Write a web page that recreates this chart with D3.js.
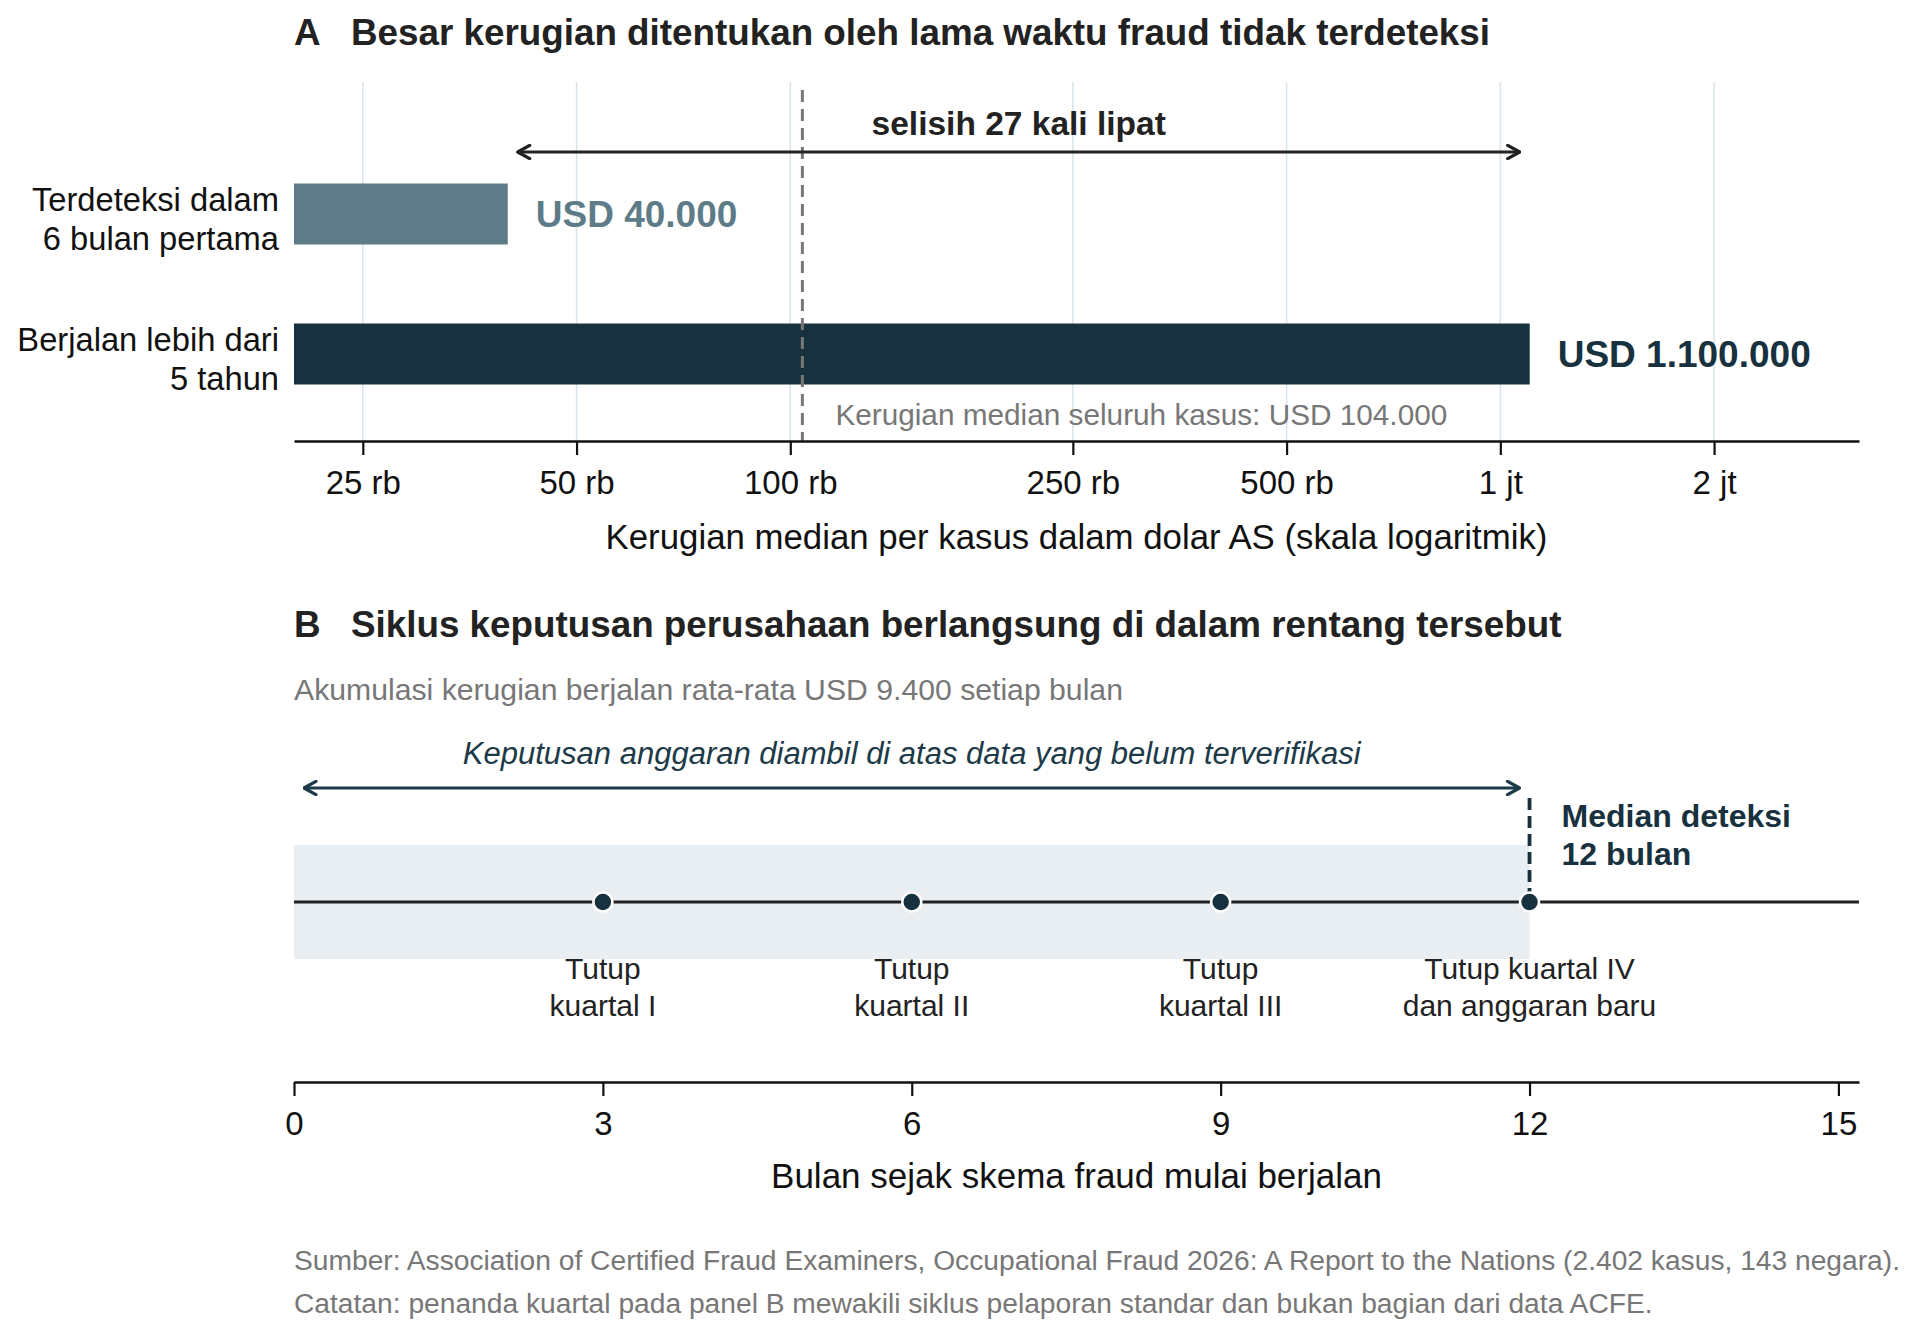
<!DOCTYPE html>
<html>
<head>
<meta charset="utf-8">
<script src="https://cdn.jsdelivr.net/npm/d3@7"></script>
<style>
  body { margin: 0; background: #fff; }
  svg { font-family: "Liberation Sans", Arial, sans-serif; }
</style>
</head>
<body>
<svg id="chart" width="1920" height="1336"></svg>
<script>
// panel A data
const categories = ["Terdeteksi dalam\n6 bulan pertama", "Berjalan lebih dari\n5 tahun"];
const lossValues = [40000, 1100000];
const lossLabels = ["USD 40.000", "USD 1.100.000"];
const medianAllCases = 104000;
const logTicks = [25000, 50000, 100000, 250000, 500000, 1000000, 2000000];
const logTickLabels = ["25 rb", "50 rb", "100 rb", "250 rb", "500 rb", "1 jt", "2 jt"];

// panel B data
const quarterMonths = [3, 6, 9, 12];
const quarterLabels = ["Tutup\nkuartal I", "Tutup\nkuartal II", "Tutup\nkuartal III", "Tutup kuartal IV\ndan anggaran baru"];
const monthTicks = [0, 3, 6, 9, 12, 15];
const medianDetectionMonths = 12;

const WIDTH = 1920, HEIGHT = 1336;
const left = 294, right = 1859;
const DARK = "#18313e", SLATE = "#5e7b88", TEXT = "#222", GRAY = "#777";

const svg = d3.select("#chart");
svg.append("rect").attr("width", WIDTH).attr("height", HEIGHT).attr("fill", "#fff");

// arrow heads
const defs = svg.append("defs");
[["arrowDark", "#222"], ["arrowTeal", "#1d3a48"]].forEach(([id, c]) => {
  defs.append("marker")
    .attr("id", id)
    .attr("viewBox", "0 0 12 12")
    .attr("refX", 11).attr("refY", 6)
    .attr("markerWidth", 16).attr("markerHeight", 16)
    .attr("markerUnits", "userSpaceOnUse")
    .attr("orient", "auto-start-reverse")
    .append("path")
    .attr("d", "M2,1 L11,6 L2,11")
    .attr("fill", "none")
    .attr("stroke", c)
    .attr("stroke-width", 2.4)
    .attr("stroke-linecap", "round")
    .attr("stroke-linejoin", "round");
});

function multiline(sel, text, lineH) {
  text.split("\n").forEach((t, i) => {
    sel.append("tspan").attr("x", sel.attr("x")).attr("dy", i === 0 ? 0 : lineH).text(t);
  });
}

function panelTitle(letter, text, y) {
  svg.append("text").attr("x", left).attr("y", y)
    .attr("font-size", 36.8).attr("font-weight", "bold").attr("fill", TEXT).text(letter);
  svg.append("text").attr("x", 351).attr("y", y)
    .attr("font-size", 36.8).attr("font-weight", "bold").attr("fill", TEXT).text(text);
}

// ---------------- Panel A ----------------
panelTitle("A", "Besar kerugian ditentukan oleh lama waktu fraud tidak terdeteksi", 45);

const axisA_Y = 441;
const x = d3.scaleLog().domain([20000, 3200000]).range([left, right]);
const y = d3.scalePoint().domain(categories).range([214, 354]);
const barH = 61;

const gA = svg.append("g");

// grid
gA.selectAll(".grid").data(logTicks).join("line")
  .attr("x1", d => x(d)).attr("x2", d => x(d))
  .attr("y1", 82).attr("y2", axisA_Y)
  .attr("stroke", "#d9e4ea").attr("stroke-width", 1.5);

// bars
gA.selectAll(".bar").data(lossValues).join("rect")
  .attr("x", x.range()[0])
  .attr("y", (d, i) => y(categories[i]) - barH / 2)
  .attr("width", d => x(d) - left)
  .attr("height", barH)
  .attr("fill", (d, i) => i === 0 ? SLATE : DARK);

// median of all cases
gA.append("line")
  .attr("x1", x(medianAllCases)).attr("x2", x(medianAllCases))
  .attr("y1", 90).attr("y2", axisA_Y)
  .attr("stroke", "#777").attr("stroke-width", 3)
  .attr("stroke-dasharray", "12,7");
gA.append("text")
  .attr("x", x(medianAllCases) + 33).attr("y", 425)
  .attr("font-size", 29.75).attr("fill", GRAY)
  .text("Kerugian median seluruh kasus: USD " + d3.format(",")(medianAllCases).replace(/,/g, "."));

// value labels
gA.selectAll(".val").data(lossValues).join("text")
  .attr("x", d => x(d) + 28)
  .attr("y", (d, i) => y(categories[i]) + 13)
  .attr("font-size", 37).attr("font-weight", "bold")
  .attr("fill", (d, i) => i === 0 ? SLATE : DARK)
  .text((d, i) => lossLabels[i]);

// category labels
gA.selectAll(".cat").data(categories).join("text")
  .attr("x", 279)
  .attr("y", d => y(d) - 3)
  .attr("text-anchor", "end")
  .attr("font-size", 32.7).attr("fill", "#111")
  .each(function (d) { multiline(d3.select(this), d, 39); });

// ratio arrow
const ratio = Math.floor(lossValues[1] / lossValues[0]);
gA.append("line")
  .attr("x1", x(lossValues[0]) + 10).attr("x2", x(lossValues[1]) - 10)
  .attr("y1", 152).attr("y2", 152)
  .attr("stroke", "#222").attr("stroke-width", 2.8)
  .attr("marker-start", "url(#arrowDark)").attr("marker-end", "url(#arrowDark)");
gA.append("text")
  .attr("x", (x(lossValues[0]) + x(lossValues[1])) / 2).attr("y", 135)
  .attr("text-anchor", "middle")
  .attr("font-size", 33.5).attr("font-weight", "bold").attr("fill", TEXT)
  .text(`selisih ${ratio} kali lipat`);

// axis
const axisA = gA.append("g")
  .attr("transform", `translate(0,${axisA_Y})`)
  .call(d3.axisBottom(x).tickValues(logTicks)
    .tickFormat((d, i) => logTickLabels[i])
    .tickSize(14).tickSizeOuter(0).tickPadding(16));
axisA.select(".domain").attr("stroke", "#111").attr("stroke-width", 2.6);
axisA.selectAll(".tick line").attr("stroke", "#111").attr("stroke-width", 2.2);
axisA.selectAll(".tick text").attr("font-size", 33).attr("fill", "#111")
  .attr("font-family", "Liberation Sans, Arial, sans-serif");

gA.append("text")
  .attr("x", (left + right) / 2).attr("y", 549)
  .attr("text-anchor", "middle").attr("font-size", 34.8).attr("fill", "#111")
  .text("Kerugian median per kasus dalam dolar AS (skala logaritmik)");

// ---------------- Panel B ----------------
panelTitle("B", "Siklus keputusan perusahaan berlangsung di dalam rentang tersebut", 637);

svg.append("text").attr("x", left).attr("y", 700)
  .attr("font-size", 30.2).attr("fill", GRAY)
  .text("Akumulasi kerugian berjalan rata-rata USD 9.400 setiap bulan");

const m = d3.scaleLinear().domain([0, 15.2]).range([left, right]);
const lineY = 902;
const axisB_Y = 1082;
const gB = svg.append("g");

// decision window band
gB.append("rect")
  .attr("x", m(0)).attr("width", m(medianDetectionMonths) - m(0))
  .attr("y", 845).attr("height", 114)
  .attr("fill", "#e9eef2");

gB.append("text")
  .attr("x", (m(0) + m(medianDetectionMonths)) / 2).attr("y", 764)
  .attr("text-anchor", "middle")
  .attr("font-size", 31).attr("font-style", "italic").attr("fill", "#1d3a48")
  .text("Keputusan anggaran diambil di atas data yang belum terverifikasi");

gB.append("line")
  .attr("x1", m(0) + 10).attr("x2", m(medianDetectionMonths) - 10)
  .attr("y1", 788).attr("y2", 788)
  .attr("stroke", "#1d3a48").attr("stroke-width", 2.8)
  .attr("marker-start", "url(#arrowTeal)").attr("marker-end", "url(#arrowTeal)");

// timeline
gB.append("line")
  .attr("x1", m.range()[0]).attr("x2", m.range()[1])
  .attr("y1", lineY).attr("y2", lineY)
  .attr("stroke", "#222").attr("stroke-width", 3);

// median detection
gB.append("line")
  .attr("x1", m(medianDetectionMonths)).attr("x2", m(medianDetectionMonths))
  .attr("y1", 798).attr("y2", lineY)
  .attr("stroke", DARK).attr("stroke-width", 3.8)
  .attr("stroke-dasharray", "12,6");
gB.append("text")
  .attr("x", m(medianDetectionMonths) + 32).attr("y", 827)
  .attr("font-size", 32).attr("font-weight", "bold").attr("fill", DARK)
  .each(function () { multiline(d3.select(this), `Median deteksi\n${medianDetectionMonths} bulan`, 38); });

// quarter markers
gB.selectAll(".dot").data(quarterMonths).join("circle")
  .attr("cx", d => m(d)).attr("cy", lineY).attr("r", 9.5)
  .attr("fill", DARK).attr("stroke", "#fff").attr("stroke-width", 2.5);

gB.selectAll(".qlab").data(quarterMonths).join("text")
  .attr("x", d => m(d)).attr("y", 979)
  .attr("text-anchor", "middle").attr("font-size", 30).attr("fill", TEXT)
  .each(function (d, i) { multiline(d3.select(this), quarterLabels[i], 37); });

// axis
const axisB = gB.append("g")
  .attr("transform", `translate(0,${axisB_Y})`)
  .call(d3.axisBottom(m).tickValues(monthTicks)
    .tickSize(14).tickSizeOuter(0).tickPadding(16));
axisB.select(".domain").attr("stroke", "#111").attr("stroke-width", 2.6);
axisB.selectAll(".tick line").attr("stroke", "#111").attr("stroke-width", 2.2);
axisB.selectAll(".tick text").attr("font-size", 33).attr("fill", "#111")
  .attr("font-family", "Liberation Sans, Arial, sans-serif");

gB.append("text")
  .attr("x", (left + right) / 2).attr("y", 1188)
  .attr("text-anchor", "middle").attr("font-size", 35).attr("fill", "#111")
  .text("Bulan sejak skema fraud mulai berjalan");

// footer
svg.append("text").attr("x", left).attr("y", 1270)
  .attr("font-size", 28.2).attr("fill", GRAY)
  .text("Sumber: Association of Certified Fraud Examiners, Occupational Fraud 2026: A Report to the Nations (2.402 kasus, 143 negara).");
svg.append("text").attr("x", left).attr("y", 1313)
  .attr("font-size", 28.2).attr("fill", GRAY)
  .text("Catatan: penanda kuartal pada panel B mewakili siklus pelaporan standar dan bukan bagian dari data ACFE.");
</script>
</body>
</html>
